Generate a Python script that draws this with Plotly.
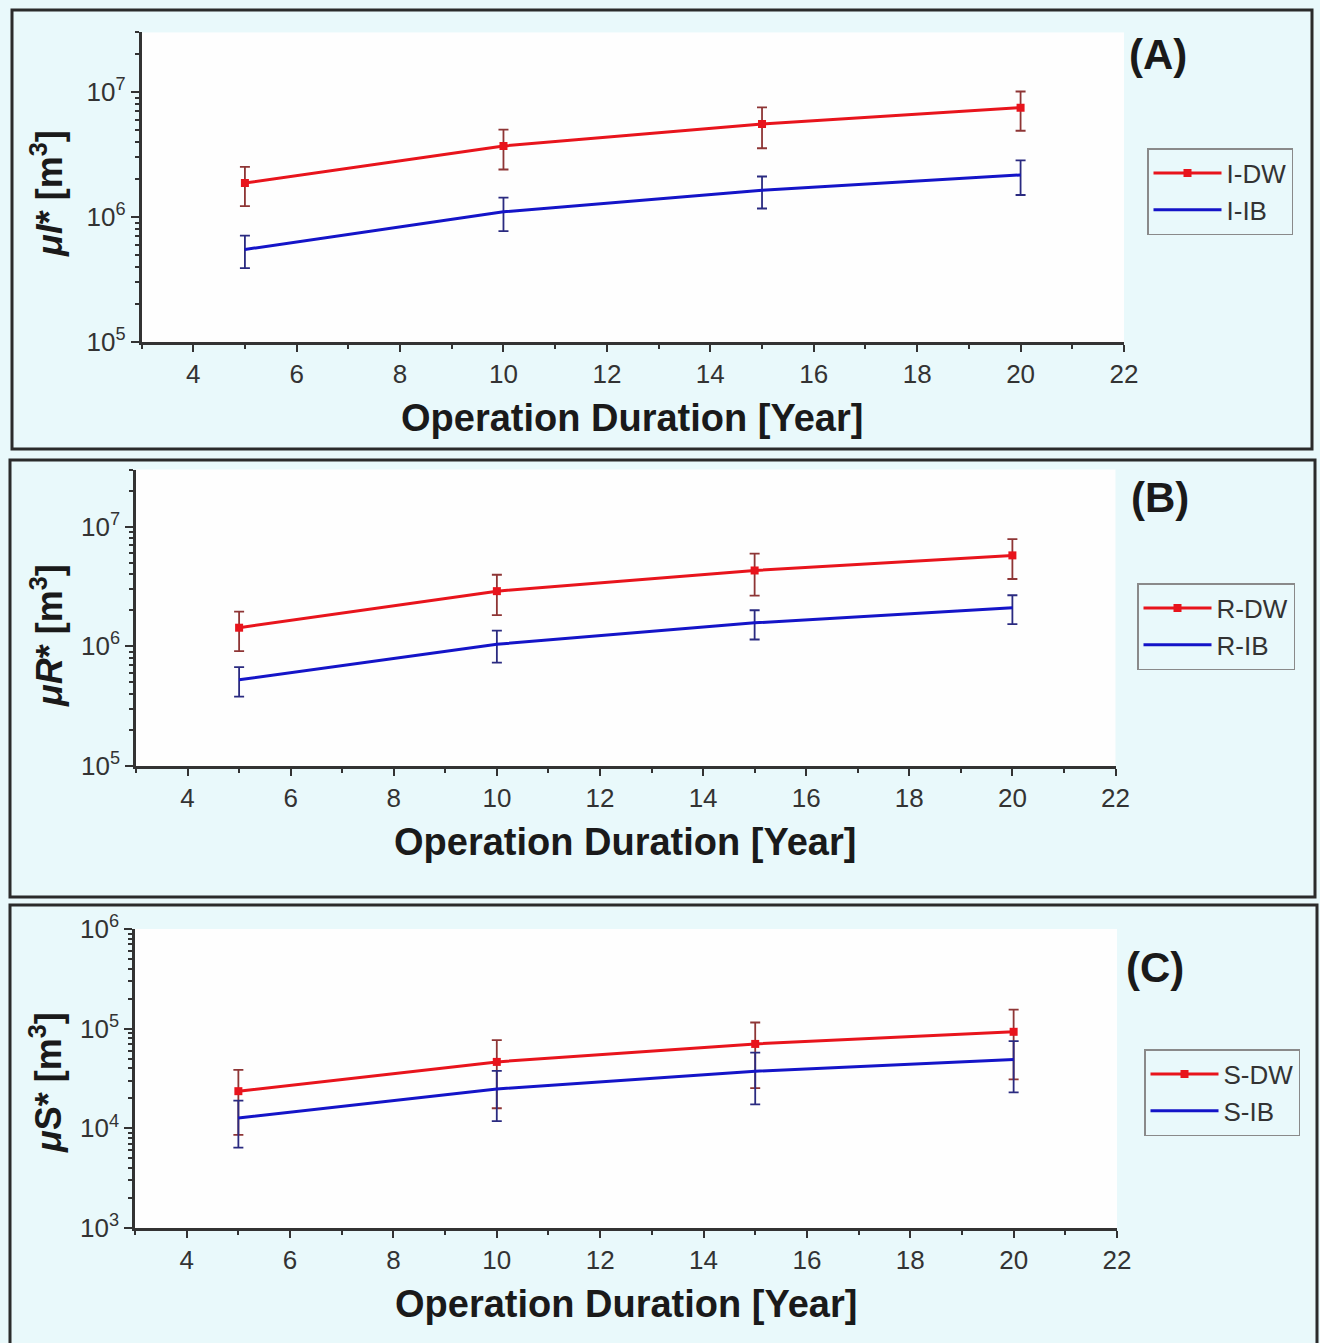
import math
import plotly.graph_objects as go

# ---- data: operation duration (years) and mean volumes [m^3] with error bars ----
years = [5, 10, 15, 20]

i_dw = [1.87e6, 3.70e6, 5.55e6, 7.50e6]
i_dw_err = [0.65e6, 1.30e6, 2.00e6, 2.60e6]
i_ib = [5.50e5, 1.10e6, 1.64e6, 2.17e6]
i_ib_err = [1.60e5, 0.33e6, 0.47e6, 0.67e6]

r_dw = [1.43e6, 2.89e6, 4.30e6, 5.75e6]
r_dw_err = [0.52e6, 1.07e6, 1.65e6, 2.10e6]
r_ib = [5.25e5, 1.04e6, 1.57e6, 2.10e6]
r_ib_err = [1.45e5, 0.31e6, 0.43e6, 0.57e6]

s_dw = [2.36e4, 4.64e4, 7.03e4, 9.30e4]
s_dw_err = [1.50e4, 3.05e4, 4.50e4, 6.20e4]
s_ib = [1.27e4, 2.48e4, 3.74e4, 4.90e4]
s_ib_err = [0.63e4, 1.30e4, 2.00e4, 2.60e4]

panel_tags = ["(A)", "(B)", "(C)"]
series_names = [("I-DW", "I-IB"), ("R-DW", "R-IB"), ("S-DW", "S-IB")]
y_titles = ["<i>μI</i>* [m<sup>3</sup>]", "<i>μR</i>* [m<sup>3</sup>]", "<i>μ</i>S* [m<sup>3</sup>]"]
y_decades = [(5, 7), (5, 7), (3, 6)]
y_tops = [3e7, 3e7, 1e6]
x_title = "Operation Duration [Year]"

# ---- page geometry (pixels) ----
W, H = 1320, 1343
def fx(px):
    return px / W
def fy(py):
    return 1 - py / H

FONT = "Arial, Liberation Sans, sans-serif"
INK = "#333333"
RED, BLUE = "#e8141c", "#1414c8"
RED_BAR, BLUE_BAR = "#8e3535", "#2a2a80"

# plot-area boxes: (left, right, top, bottom) in pixels
plot_boxes = [(141.5, 1124, 32.4, 342), (136, 1115.5, 469.5, 766), (135, 1117, 929, 1228)]
frames = [(12, 1312, 10, 449), (10, 1315, 460, 897), (10, 1317, 905, 1350)]
tag_pos = [(1158, 54), (1160, 497), (1155, 967)]
xt_pos = [(632, 418), (625, 842), (626, 1304)]
yt_pos = [(47, 194), (47, 636), (46, 1083)]
legend_pos = [(1147, 148), (1137, 583), (1144, 1049)]

values = [(i_dw, i_dw_err, i_ib, i_ib_err),
          (r_dw, r_dw_err, r_ib, r_ib_err),
          (s_dw, s_dw_err, s_ib, s_ib_err)]

fig = go.Figure()
layout = dict(
    width=W, height=H, margin=dict(l=0, r=0, t=0, b=0, autoexpand=False),
    paper_bgcolor="#e9f9fb", plot_bgcolor="#fefefe",
    font=dict(family=FONT, color=INK),
    shapes=[], annotations=[],
)

for k in range(3):
    n = "" if k == 0 else str(k + 1)
    xa, ya = "x" + n, "y" + n
    leg = "legend" if k == 0 else "legend" + str(k + 1)
    dw, dw_err, ib, ib_err = values[k]
    name_dw, name_ib = series_names[k]

    fig.add_trace(go.Scatter(
        x=years, y=dw, name=name_dw, mode="lines+markers",
        line=dict(color=RED, width=3), marker=dict(symbol="square", size=8, color=RED),
        error_y=dict(type="data", array=dw_err, visible=True, color=RED_BAR, thickness=1.8, width=5),
        xaxis=xa, yaxis=ya, legend=leg))
    fig.add_trace(go.Scatter(
        x=years, y=ib, name=name_ib, mode="lines",
        line=dict(color=BLUE, width=3),
        error_y=dict(type="data", array=ib_err, visible=True, color=BLUE_BAR, thickness=1.8, width=5),
        xaxis=xa, yaxis=ya, legend=leg))

    l, r, t, b = plot_boxes[k]
    lo, hi = y_decades[k]
    majors = [10 ** e for e in range(lo, hi + 1)]
    minors = [m * 10 ** e for e in range(lo, hi + 1) for m in range(2, 10) if m * 10 ** e <= y_tops[k] * 1.001]

    layout["xaxis" + n] = dict(
        domain=[fx(l), fx(r)], anchor=ya, range=[3, 22], tick0=0, dtick=2,
        automargin=False,
        ticks="outside", ticklen=7, tickwidth=2, tickcolor=INK,
        showline=True, linewidth=2.5, linecolor=INK, showgrid=False, zeroline=False,
        tickfont=dict(size=26, color=INK, family=FONT),
        minor=dict(dtick=1, ticks="outside", ticklen=4, tickwidth=1.5, tickcolor=INK, showgrid=False),
    )
    layout["yaxis" + n] = dict(
        domain=[fy(b), fy(t)], anchor=xa, type="log",
        range=[lo, math.log10(y_tops[k])], automargin=False,
        tickmode="array", tickvals=majors,
        ticktext=["10<sup>%d</sup>" % e for e in range(lo, hi + 1)],
        ticks="outside", ticklen=8, tickwidth=2, tickcolor=INK,
        showline=True, linewidth=2.5, linecolor=INK, showgrid=False, zeroline=False,
        tickfont=dict(size=26, color=INK, family=FONT),
        minor=dict(tickmode="array", tickvals=minors, ticks="outside", ticklen=4,
                   tickwidth=1.5, tickcolor=INK, showgrid=False),
    )

    lx, ly = legend_pos[k]
    layout[leg] = dict(
        x=fx(lx), y=fy(ly), xanchor="left", yanchor="top", xref="paper", yref="paper",
        bgcolor="rgba(0,0,0,0)", bordercolor="#8a8a8a", borderwidth=1.5,
        font=dict(size=26, color=INK, family=FONT), itemwidth=68,
        tracegroupgap=0,
    )

    fl, fr, ft, fb = frames[k]
    layout["shapes"].append(dict(
        type="rect", xref="paper", yref="paper",
        x0=fx(fl), x1=fx(fr), y0=fy(fb), y1=fy(ft),
        line=dict(color="#2b2b2b", width=3), fillcolor="rgba(0,0,0,0)", layer="above"))

    tx, ty = tag_pos[k]
    layout["annotations"].append(dict(
        text="<b>%s</b>" % panel_tags[k], x=fx(tx), y=fy(ty), xref="paper", yref="paper",
        showarrow=False, xanchor="center", yanchor="middle",
        font=dict(size=42, color="#1a1a1a", family=FONT)))
    xx, xy = xt_pos[k]
    layout["annotations"].append(dict(
        text="<b>%s</b>" % x_title, x=fx(xx), y=fy(xy), xref="paper", yref="paper",
        showarrow=False, xanchor="center", yanchor="middle",
        font=dict(size=38, color="#1a1a1a", family=FONT)))
    yx, yy = yt_pos[k]
    layout["annotations"].append(dict(
        text="<b>%s</b>" % y_titles[k], x=fx(yx), y=fy(yy), xref="paper", yref="paper",
        showarrow=False, xanchor="center", yanchor="middle", textangle=-90,
        font=dict(size=36, color="#1a1a1a", family=FONT)))

fig.update_layout(**layout)
fig.write_html("out.html")
